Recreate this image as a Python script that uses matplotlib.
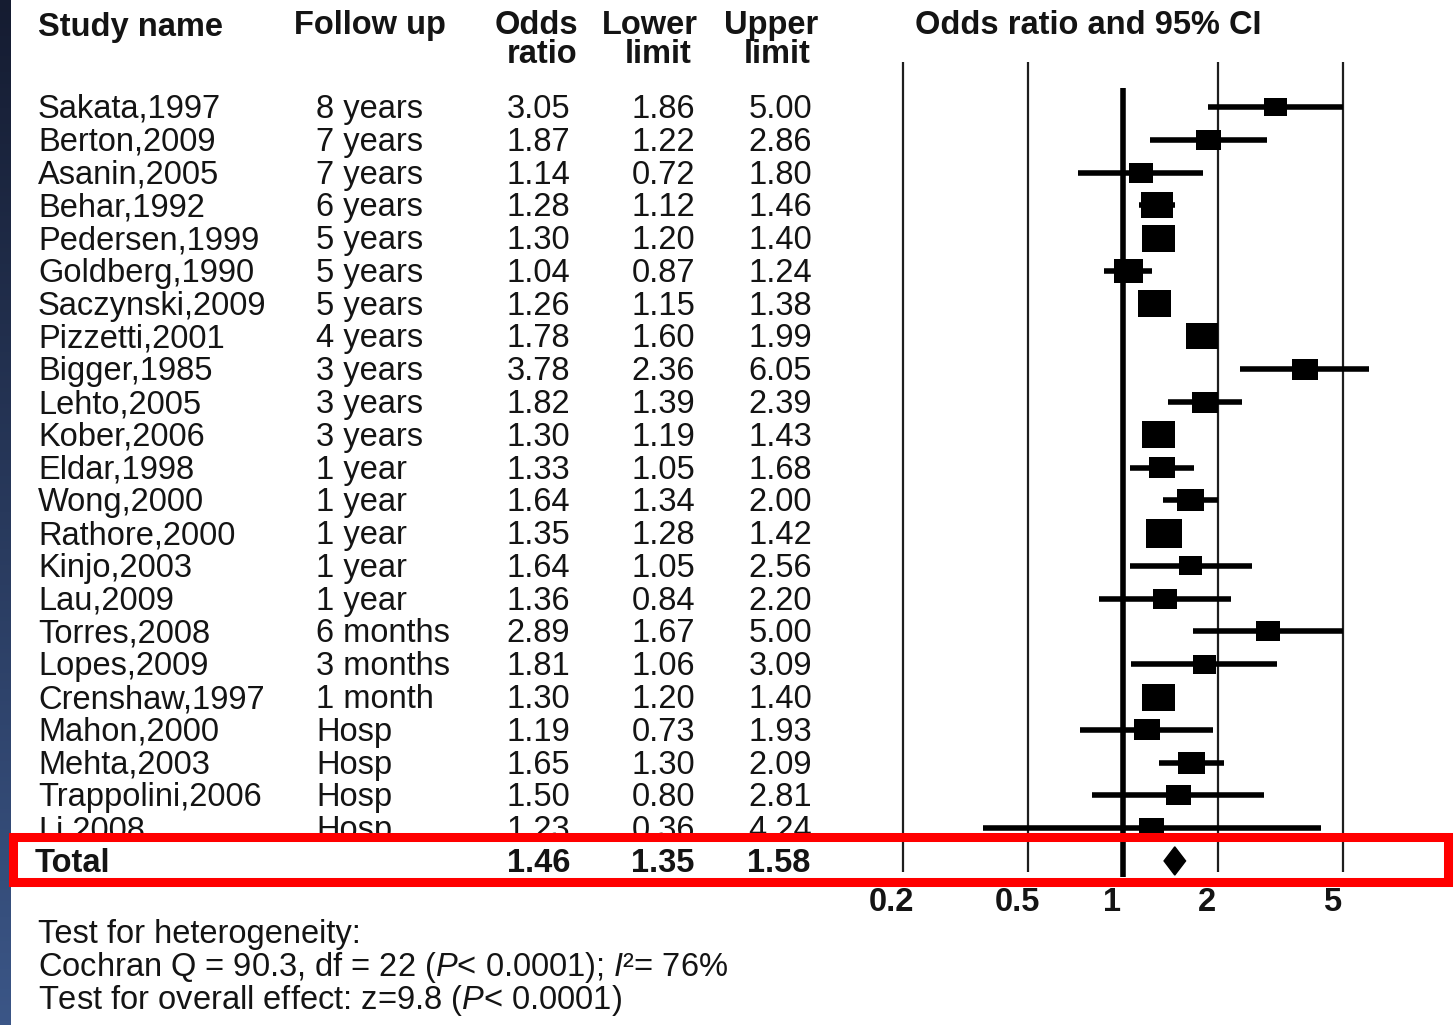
import numpy as np
import matplotlib
matplotlib.use("Agg")
import matplotlib.pyplot as plt
import matplotlib.transforms as mtransforms
from matplotlib.colors import LinearSegmentedColormap
from matplotlib.patches import Rectangle, Polygon

plt.rcParams['font.family'] = ['Liberation Sans', 'DejaVu Sans']
plt.rcParams['mathtext.fontset'] = 'custom'
plt.rcParams['mathtext.rm'] = 'Liberation Sans'
plt.rcParams['mathtext.it'] = 'Liberation Sans:italic'

# ---- data -------------------------------------------------------------
studies = ["Sakata,1997", "Berton,2009", "Asanin,2005", "Behar,1992",
           "Pedersen,1999", "Goldberg,1990", "Saczynski,2009", "Pizzetti,2001",
           "Bigger,1985", "Lehto,2005", "Kober,2006", "Eldar,1998",
           "Wong,2000", "Rathore,2000", "Kinjo,2003", "Lau,2009",
           "Torres,2008", "Lopes,2009", "Crenshaw,1997", "Mahon,2000",
           "Mehta,2003", "Trappolini,2006", "Li,2008"]
follow_up = ["8 years", "7 years", "7 years", "6 years", "5 years", "5 years",
             "5 years", "4 years", "3 years", "3 years", "3 years", "1 year",
             "1 year", "1 year", "1 year", "1 year", "6 months", "3 months",
             "1 month", "Hosp", "Hosp", "Hosp", "Hosp"]
odds  = [3.05, 1.87, 1.14, 1.28, 1.30, 1.04, 1.26, 1.78, 3.78, 1.82, 1.30, 1.33,
         1.64, 1.35, 1.64, 1.36, 2.89, 1.81, 1.30, 1.19, 1.65, 1.50, 1.23]
lower = [1.86, 1.22, 0.72, 1.12, 1.20, 0.87, 1.15, 1.60, 2.36, 1.39, 1.19, 1.05,
         1.34, 1.28, 1.05, 0.84, 1.67, 1.06, 1.20, 0.73, 1.30, 0.80, 0.36]
upper = [5.00, 2.86, 1.80, 1.46, 1.40, 1.24, 1.38, 1.99, 6.05, 2.39, 1.43, 1.68,
         2.00, 1.42, 2.56, 2.20, 5.00, 3.09, 1.40, 1.93, 2.09, 2.81, 4.24]
# relative study weight (box height)
weight = [19, 20, 20, 26, 27, 24, 27, 26, 21, 21, 27, 21,
          22, 29, 19, 20, 20, 19, 27, 21, 22, 20, 20]

total_or, total_lo, total_hi = 1.46, 1.35, 1.58
ticks = [0.2, 0.5, 1, 2, 5]
tick_labels = ["0.2", "0.5", "1", "2", "5"]

# ---- layout (pixels) --------------------------------------------------
W, H = 1454, 1025
ROW0, ROW_STEP = 107, 32.78
FS = 23.5
INK = "#141414"


def row_y(i):
    return ROW0 + ROW_STEP * i


def px_to_row(y):
    return (y - ROW0) / ROW_STEP


fig = plt.figure(figsize=(W / 100, H / 100), dpi=100)
fig.patch.set_facecolor("white")

# dark slide strip on the left
ax_s = fig.add_axes([0, 0, 11 / W, 1])
grad = np.linspace(0, 1, 256).reshape(-1, 1)
ax_s.imshow(grad, aspect="auto",
            cmap=LinearSegmentedColormap.from_list("navy", ["#151c31", "#3b5687"]))
ax_s.axis("off")

# forest panel: log odds-ratio axis
xmin, xmax = 0.15, 10
px_1, px_dec = 1123, 315
left_px = px_1 + np.log10(xmin) * px_dec
right_px = px_1 + np.log10(xmax) * px_dec
ax_f = fig.add_axes([left_px / W, 0, (right_px - left_px) / W, 1])
ax_f.set_xscale("log")
ax_f.set_xlim(xmin, xmax)
ax_f.set_ylim(px_to_row(H), px_to_row(0))
ax_f.axis("off")
ax_f.set_zorder(1)

for t in ticks:
    if t == 1:
        ax_f.vlines(t, px_to_row(88), px_to_row(877), color="black", lw=4.0)
    else:
        ax_f.vlines(t, px_to_row(62), px_to_row(872), color="#1e1e1e", lw=1.6)

rows = np.arange(len(studies))
ax_f.hlines(rows, lower, upper, color="black", lw=4.0, capstyle="butt")
box = [(-0.61, -0.5), (0.61, -0.5), (0.61, 0.5), (-0.61, 0.5)]
sizes = (np.array(weight) * 1.22 / 1.389) ** 2
ax_f.scatter(odds, rows, marker=box, s=sizes, color="black",
             edgecolors="none", zorder=3)

tot_row = len(studies)
ax_f.add_patch(Polygon([(total_lo, tot_row), (total_or, tot_row - 0.43),
                        (total_hi, tot_row), (total_or, tot_row + 0.43)],
                       closed=True, color="black", zorder=3))

lab_tr = mtransforms.offset_copy(ax_f.transData, fig=fig, x=-11, y=-2, units="dots")
for t, lab in zip(ticks, tick_labels):
    ax_f.text(t, px_to_row(900), lab, transform=lab_tr, ha="center", va="center",
              fontsize=FS, fontweight="bold", color=INK)

# table panel in pixel coordinates
ax_t = fig.add_axes([0, 0, 1, 1])
ax_t.set_xlim(0, W)
ax_t.set_ylim(H, 0)
ax_t.axis("off")
ax_t.set_zorder(2)
ax_t.patch.set_alpha(0)

bold = dict(fontsize=FS, fontweight="bold", color=INK, va="baseline")
reg = dict(fontsize=FS, color=INK, va="baseline")
BL = 11

ax_t.text(38, 25 + BL, "Study name", ha="left", **bold)
ax_t.text(294, 23 + BL, "Follow up", ha="left", **bold)
ax_t.text(536, 23 + BL, "Odds", ha="center", **bold)
ax_t.text(542, 52 + BL, "ratio", ha="center", **bold)
ax_t.text(650, 23 + BL, "Lower", ha="center", **bold)
ax_t.text(658, 52 + BL, "limit", ha="center", **bold)
ax_t.text(771, 23 + BL, "Upper", ha="center", **bold)
ax_t.text(777, 52 + BL, "limit", ha="center", **bold)
ax_t.text(915, 23 + BL, "Odds ratio and 95% CI", ha="left", **bold)

for i, (name, fu, o, lo, hi) in enumerate(zip(studies, follow_up, odds, lower, upper)):
    y = row_y(i) + BL
    ax_t.text(38, y, name, ha="left", **reg)
    ax_t.text(316, y, fu, ha="left", **reg)
    ax_t.text(570, y, f"{o:.2f}", ha="right", **reg)
    ax_t.text(695, y, f"{lo:.2f}", ha="right", **reg)
    ax_t.text(812, y, f"{hi:.2f}", ha="right", **reg)

# pooled row, boxed in red
ax_t.add_patch(Rectangle((16, 840), 850, 38, facecolor="white",
                         edgecolor="none", zorder=4))
ax_t.add_patch(Rectangle((12.5, 837), 1435, 44.5, facecolor="none",
                         edgecolor="#ff0000", lw=6.5, zorder=6))
ty = row_y(tot_row) + BL
ax_t.text(35, ty, "Total", ha="left", zorder=5, **bold)
ax_t.text(570, ty, f"{total_or:.2f}", ha="right", zorder=5, **bold)
ax_t.text(694, ty, f"{total_lo:.2f}", ha="right", zorder=5, **bold)
ax_t.text(810, ty, f"{total_hi:.2f}", ha="right", zorder=5, **bold)

ax_t.text(38, 932 + BL, "Test for heterogeneity:", ha="left", **reg)
ax_t.text(38, 965 + BL,
          r"Cochran Q = 90.3, df = 22 ($\mathit{P}$< 0.0001); $\mathit{I}$²= 76%",
          ha="left", **reg)
ax_t.text(38, 998 + BL, r"Test for overall effect: z=9.8 ($\mathit{P}$< 0.0001)",
          ha="left", **reg)

fig.savefig("out.png", dpi=100, facecolor="white")
plt.close(fig)
